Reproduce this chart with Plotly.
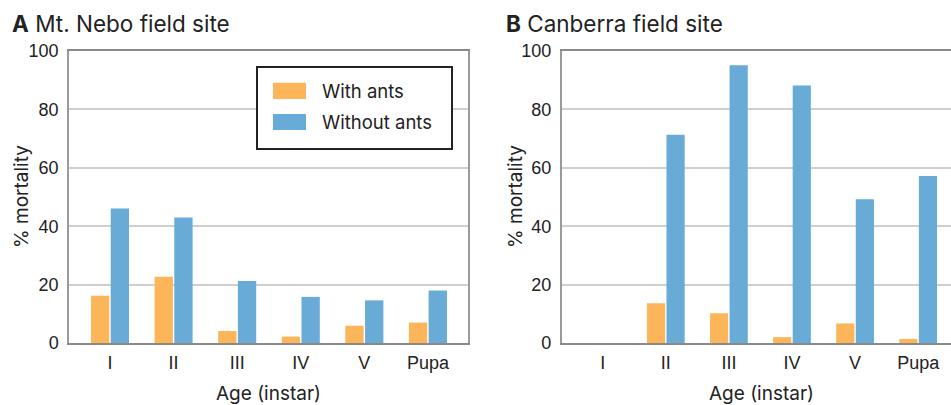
import plotly.graph_objects as go

# Larval / pupal stages
stages = ["I", "II", "III", "IV", "V", "Pupa"]

# % mortality, Mt. Nebo field site
nebo_with_ants = [16.2, 22.7, 4.1, 2.2, 5.9, 7.0]
nebo_without_ants = [46.1, 43.0, 21.2, 15.8, 14.6, 18.0]

# % mortality, Canberra field site
canberra_with_ants = [0, 13.6, 10.2, 2.0, 6.7, 1.4]
canberra_without_ants = [0, 71.3, 95.1, 88.2, 49.2, 57.2]

series_names = ["With ants", "Without ants"]
y_ticks = [0, 20, 40, 60, 80, 100]

ORANGE = "#FDB55A"
BLUE = "#67ABD6"
W, H = 951, 405

TICK_FONT = dict(family="Liberation Sans, Arial, sans-serif", size=18, color="#222")
TEXT_FONT = "Inter, Liberation Sans, Arial, sans-serif"

fig = go.Figure()

for vals, name, color in [(nebo_with_ants, series_names[0], ORANGE),
                          (nebo_without_ants, series_names[1], BLUE)]:
    fig.add_trace(go.Bar(x=stages, y=vals, name=name, marker=dict(color=color, line=dict(width=0)),
                         xaxis="x", yaxis="y", showlegend=False))
for vals, name, color in [(canberra_with_ants, series_names[0], ORANGE),
                          (canberra_without_ants, series_names[1], BLUE)]:
    fig.add_trace(go.Bar(x=stages, y=vals, name=name, marker=dict(color=color, line=dict(width=0)),
                         xaxis="x2", yaxis="y2", showlegend=False))


def px_x(v):
    return v / W


def px_y(v):
    return 1 - v / H


y_dom = [px_y(343), px_y(51)]

common_x = dict(type="category", showgrid=False, ticks="", tickfont=TICK_FONT, automargin=False,
                ticklabelstandoff=3, linecolor="#8a8a8a", linewidth=1.5, zeroline=False)
common_y = dict(range=[0, 100], tickvals=y_ticks, showgrid=True, gridcolor="#cfcfcf", gridwidth=1.5,
                ticks="", tickfont=TICK_FONT, ticklabelstandoff=5, linecolor="#9a9a9a",
                linewidth=1.5, zeroline=False, automargin=False)

fig.update_layout(
    template="none",
    width=W, height=H, autosize=False,
    margin=dict(l=0, r=0, t=0, b=0, pad=0),
    paper_bgcolor="white", plot_bgcolor="white",
    barmode="group", bargap=0.38, bargroupgap=0.07,
    showlegend=False,
    xaxis=dict(common_x, domain=[px_x(69), px_x(468)], range=[-0.645, 5.63], anchor="y", mirror=True),
    yaxis=dict(common_y, domain=y_dom, anchor="x", mirror=True),
    xaxis2=dict(common_x, domain=[px_x(561.7), 1.0], range=[-0.65, 5.52], anchor="y2", mirror=True),
    yaxis2=dict(common_y, domain=y_dom, anchor="x2", mirror=False),
)

annotations = []
# Panel titles
for x0, letter, title in [(10, "A", "Mt. Nebo field site"), (504, "B", "Canberra field site")]:
    annotations.append(dict(x=px_x(x0), y=px_y(24), xref="paper", yref="paper", xanchor="left",
                            yanchor="middle", showarrow=False,
                            text=f"<b>{letter}</b> {title}",
                            font=dict(family=TEXT_FONT, size=22.5, color="#222")))
# Axis titles
for xc, yc in [(21, 197), (515, 197)]:
    annotations.append(dict(x=px_x(xc), y=px_y(yc), xref="paper", yref="paper", textangle=-90,
                            xanchor="center", yanchor="middle", showarrow=False, text="% mortality",
                            font=dict(family=TEXT_FONT, size=19, color="#222")))
for xc in [268.5, 761]:
    annotations.append(dict(x=px_x(xc), y=px_y(393), xref="paper", yref="paper",
                            xanchor="center", yanchor="middle", showarrow=False, text="Age (instar)",
                            font=dict(family=TEXT_FONT, size=19, color="#222")))

# Legend box for panel A
shapes = [dict(type="rect", xref="paper", yref="paper", x0=px_x(257), x1=px_x(452),
               y0=px_y(149), y1=px_y(67), fillcolor="white", line=dict(color="#222", width=2),
               layer="above")]
for (ytop, ybot, ytext), name, color in [((82.7, 99, 91), series_names[0], ORANGE),
                                         ((114, 130, 122), series_names[1], BLUE)]:
    shapes.append(dict(type="rect", xref="paper", yref="paper", x0=px_x(273), x1=px_x(306),
                       y0=px_y(ybot), y1=px_y(ytop), fillcolor=color, line=dict(width=0),
                       layer="above"))
    annotations.append(dict(x=px_x(320), y=px_y(ytext), xref="paper", yref="paper",
                            xanchor="left", yanchor="middle", showarrow=False, text=name,
                            font=dict(family=TEXT_FONT, size=18.5, color="#222")))

fig.update_layout(annotations=annotations, shapes=shapes)

fig.write_html("out.html")
